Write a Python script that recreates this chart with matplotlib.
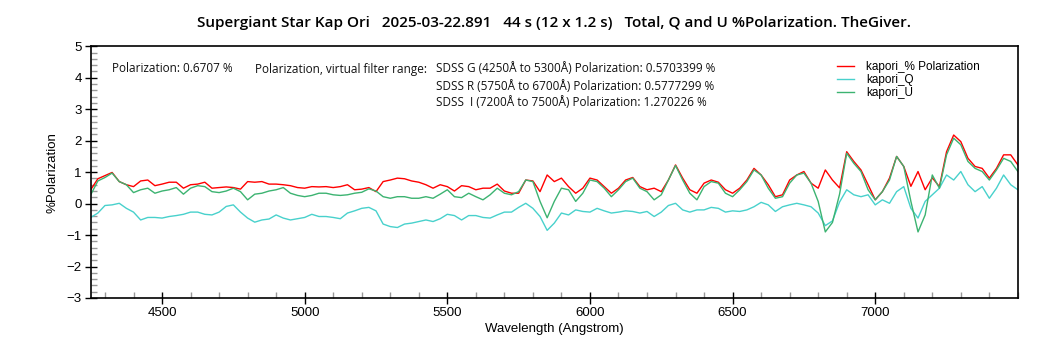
import numpy as np
import matplotlib
matplotlib.use('Agg')
import matplotlib.pyplot as plt
from matplotlib.ticker import MultipleLocator

# wavelength grid (Angstrom), read every 25 A off the reference
wavelength = np.arange(4250, 7501, 25)

# total polarization (%)
pol_total = [
    0.44, 0.79, 0.89, 0.99, 0.70, 0.60, 0.54, 0.72, 0.75, 0.57, 0.62, 0.68, 0.68, 0.49, 0.60, 0.62, 0.68, 0.49, 0.51, 0.53, 0.51, 0.46,
    0.70, 0.68, 0.70, 0.62, 0.62, 0.60, 0.57, 0.51, 0.49, 0.54, 0.53, 0.54, 0.51, 0.54, 0.60, 0.44, 0.46, 0.51, 0.38, 0.70, 0.75, 0.81,
    0.79, 0.72, 0.68, 0.60, 0.49, 0.60, 0.54, 0.40, 0.57, 0.54, 0.44, 0.49, 0.49, 0.62, 0.40, 0.33, 0.33, 0.75, 0.72, 0.38, 0.91, 0.70,
    0.81, 0.54, 0.33, 0.49, 0.81, 0.75, 0.54, 0.33, 0.49, 0.75, 0.83, 0.54, 0.44, 0.49, 0.38, 0.75, 1.23, 0.81, 0.44, 0.33, 0.65, 0.75,
    0.68, 0.44, 0.33, 0.49, 0.75, 1.12, 0.91, 0.60, 0.22, 0.28, 0.75, 0.91, 1.02, 0.65, 0.49, 1.07, 0.75, 0.50, 1.65, 1.34, 1.07, 0.60,
    0.12, 0.38, 0.81, 1.50, 1.18, 0.55, 1.02, 0.44, 0.82, 0.54, 1.65, 2.18, 1.97, 1.44, 1.18, 1.12, 0.81, 1.12, 1.55, 1.55, 1.23,
]

# Q (%)
pol_q = [
    -0.44, -0.30, -0.06, -0.04, 0.01, -0.15, -0.27, -0.52, -0.44, -0.44, -0.46, -0.41, -0.38, -0.34, -0.27, -0.27, -0.34, -0.36, -0.27, -0.09, -0.04, -0.27,
    -0.46, -0.59, -0.52, -0.49, -0.36, -0.46, -0.52, -0.48, -0.44, -0.34, -0.41, -0.41, -0.44, -0.48, -0.30, -0.23, -0.15, -0.12, -0.23, -0.65, -0.73, -0.76,
    -0.65, -0.62, -0.57, -0.52, -0.57, -0.48, -0.34, -0.38, -0.52, -0.38, -0.38, -0.44, -0.46, -0.36, -0.27, -0.27, -0.12, 0.01, -0.15, -0.41, -0.85, -0.62,
    -0.30, -0.36, -0.20, -0.25, -0.27, -0.15, -0.23, -0.30, -0.27, -0.23, -0.25, -0.30, -0.25, -0.41, -0.27, -0.06, 0.01, -0.20, -0.27, -0.20, -0.20, -0.12,
    -0.15, -0.27, -0.23, -0.25, -0.20, -0.10, 0.04, -0.04, -0.25, -0.10, -0.04, 0.01, -0.04, -0.10, -0.30, -0.70, -0.55, 0.05, 0.44, 0.28, 0.22, 0.28,
    -0.04, 0.12, 0.01, 0.38, 0.54, -0.15, -0.46, 0.07, 0.28, 0.49, 0.91, 0.75, 1.02, 0.60, 0.38, 0.54, 0.17, 0.49, 0.91, 0.60, 0.44,
]

# U (%)
pol_u = [
    0.28, 0.72, 0.83, 0.97, 0.70, 0.60, 0.35, 0.44, 0.49, 0.33, 0.40, 0.44, 0.51, 0.30, 0.49, 0.57, 0.54, 0.38, 0.35, 0.40, 0.49, 0.38,
    0.12, 0.30, 0.33, 0.40, 0.44, 0.51, 0.33, 0.26, 0.22, 0.26, 0.33, 0.33, 0.28, 0.26, 0.28, 0.33, 0.36, 0.47, 0.40, 0.22, 0.17, 0.22,
    0.22, 0.17, 0.17, 0.22, 0.17, 0.30, 0.44, 0.22, 0.19, 0.33, 0.22, 0.12, 0.28, 0.49, 0.33, 0.28, 0.38, 0.75, 0.70, 0.07, -0.45, 0.07,
    0.49, 0.44, 0.07, 0.33, 0.75, 0.70, 0.49, 0.22, 0.44, 0.70, 0.81, 0.49, 0.38, 0.12, 0.28, 0.75, 1.21, 0.75, 0.33, 0.12, 0.54, 0.70,
    0.65, 0.33, 0.22, 0.44, 0.70, 1.07, 0.91, 0.49, 0.17, 0.22, 0.65, 0.91, 0.97, 0.65, 0.07, -0.90, -0.60, 0.30, 1.60, 1.28, 1.02, 0.44,
    0.12, 0.38, 0.75, 1.50, 1.18, 0.07, -0.90, -0.36, 0.91, 0.49, 1.55, 2.08, 1.87, 1.34, 1.12, 1.02, 0.75, 1.07, 1.44, 1.34, 1.02,
]

x_ticks = [4500, 5000, 5500, 6000, 6500, 7000]

title = ('Supergiant Star Kap Ori   2025-03-22.891   44 s (12 x 1.2 s)   '
         'Total, Q and U %Polarization. TheGiver.')
band_lines = ['SDSS G (4250Å to 5300Å) Polarization: 0.5703399 %',
              'SDSS R (5750Å to 6700Å) Polarization: 0.5777299 %',
              'SDSS  I (7200Å to 7500Å) Polarization: 1.270226 %']

plt.rcParams['font.family'] = ['Liberation Sans', 'DejaVu Sans']

fig = plt.figure(figsize=(10.5, 3.5), dpi=100)
ax = fig.add_axes([0.0864, 0.1486, 0.883, 0.7191])

ax.plot(wavelength, pol_total, color='#ff0000', lw=1.0, label='kapori_% Polarization')
ax.plot(wavelength, pol_q, color='#48d1cc', lw=1.0, label='kapori_Q')
ax.plot(wavelength, pol_u, color='#3cb371', lw=1.0, label='kapori_U')

ax.set_xlim(4250, 7500)
ax.set_ylim(-3, 5)
ax.set_xticks(x_ticks)
ax.xaxis.set_minor_locator(MultipleLocator(100))
ax.yaxis.set_major_locator(MultipleLocator(1))
ax.yaxis.set_minor_locator(MultipleLocator(0.2))
ax.tick_params(which='major', direction='inout', length=9, width=1, labelsize=9.5, pad=2)
ax.tick_params(which='minor', direction='in', length=4.5, width=1, color='#999999')
for s in ax.spines.values():
    s.set_linewidth(1.2)

ax.set_xlabel('Wavelength (Angstrom)', fontsize=9.5, labelpad=3)
ax.set_ylabel('%Polarization', fontsize=9.5, labelpad=6)

fig.text(0.528, 0.935, title, ha='center', va='center', fontsize=11,
         family=['Open Sans', 'DejaVu Sans'], fontweight='semibold')

tf = dict(fontsize=8.5, family=['Open Sans', 'DejaVu Sans'], va='center', color='#111111')
fig.text(112 / 1050, 1 - 69 / 350, 'Polarization: 0.6707 %', **tf)
fig.text(255 / 1050, 1 - 69 / 350, 'Polarization, virtual filter range:', **tf)
for i, line in enumerate(band_lines):
    fig.text(436 / 1050, 1 - (69 + 17 * i) / 350, line, **tf)

ax.legend(loc='upper left', bbox_to_anchor=(0.793, 0.985), frameon=False,
          fontsize=8.5, handlelength=1.5, handletextpad=1.0, labelspacing=0.1)

fig.savefig('out.png', dpi=100)
